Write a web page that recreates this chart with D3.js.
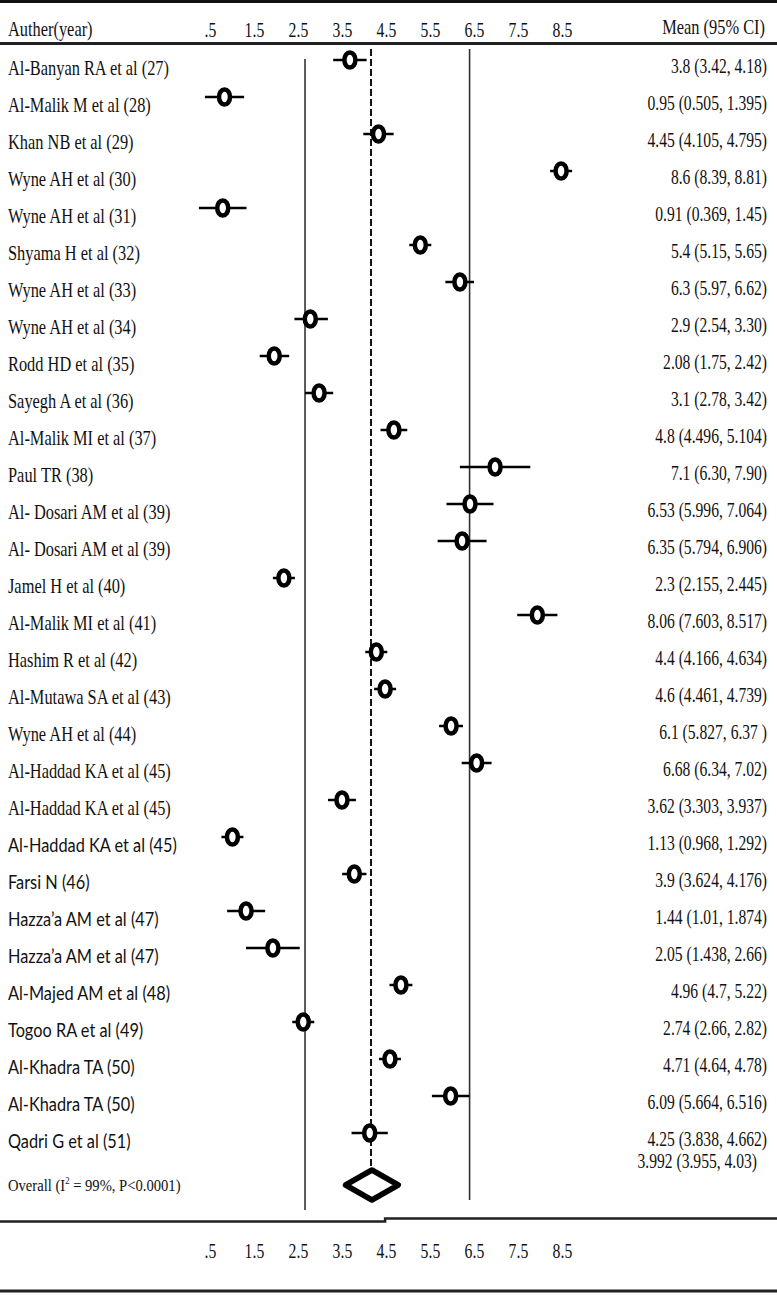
<!DOCTYPE html>
<html>
<head>
<meta charset="utf-8">
<script src="https://cdn.jsdelivr.net/npm/d3@7"></script>
<style>
  html, body { margin: 0; padding: 0; background: #fff; }
  svg { display: block; }
</style>
</head>
<body>
<svg id="chart" width="777" height="1303"></svg>
<script>
// ---------------- data ----------------
const studies = [
  "Al-Banyan RA et al (27)", "Al-Malik M et al (28)", "Khan NB et al (29)",
  "Wyne AH et al (30)", "Wyne AH et al (31)", "Shyama H et al (32)",
  "Wyne AH et al (33)", "Wyne AH et al (34)", "Rodd HD et al (35)",
  "Sayegh A et al (36)", "Al-Malik MI et al (37)", "Paul TR (38)",
  "Al- Dosari AM et al (39)", "Al- Dosari AM et al (39)", "Jamel H et al (40)",
  "Al-Malik MI et al (41)", "Hashim R et al (42)", "Al-Mutawa SA et al (43)",
  "Wyne AH et al (44)", "Al-Haddad KA et al (45)", "Al-Haddad KA et al (45)",
  "Al-Haddad KA et al (45)", "Farsi N (46)", "Hazza\u2019a AM et al (47)",
  "Hazza\u2019a AM et al (47)", "Al-Majed AM et al (48)", "Togoo RA et al (49)",
  "Al-Khadra TA (50)", "Al-Khadra TA (50)", "Qadri G et al (51)"
];
const means = [3.8, 0.95, 4.45, 8.6, 0.91, 5.4, 6.3, 2.9, 2.08, 3.1, 4.8, 7.1, 6.53, 6.35, 2.3,
  8.06, 4.4, 4.6, 6.1, 6.68, 3.62, 1.13, 3.9, 1.44, 2.05, 4.96, 2.74, 4.71, 6.09, 4.25];
const lower = [3.42, 0.505, 4.105, 8.39, 0.369, 5.15, 5.97, 2.54, 1.75, 2.78, 4.496, 6.30, 5.996, 5.794, 2.155,
  7.603, 4.166, 4.461, 5.827, 6.34, 3.303, 0.968, 3.624, 1.01, 1.438, 4.7, 2.66, 4.64, 5.664, 3.838];
const upper = [4.18, 1.395, 4.795, 8.81, 1.45, 5.65, 6.62, 3.30, 2.42, 3.42, 5.104, 7.90, 7.064, 6.906, 2.445,
  8.517, 4.634, 4.739, 6.37, 7.02, 3.937, 1.292, 4.176, 1.874, 2.66, 5.22, 2.82, 4.78, 6.516, 4.662];
const ciText = [
  "3.8 (3.42, 4.18)", "0.95 (0.505, 1.395)", "4.45 (4.105, 4.795)", "8.6 (8.39, 8.81)",
  "0.91 (0.369, 1.45)", "5.4 (5.15, 5.65)", "6.3 (5.97, 6.62)", "2.9 (2.54, 3.30)",
  "2.08 (1.75, 2.42)", "3.1 (2.78, 3.42)", "4.8 (4.496, 5.104)", "7.1 (6.30, 7.90)",
  "6.53 (5.996, 7.064)", "6.35 (5.794, 6.906)", "2.3 (2.155, 2.445)", "8.06 (7.603, 8.517)",
  "4.4 (4.166, 4.634)", "4.6 (4.461, 4.739)", "6.1 (5.827, 6.37 )", "6.68 (6.34, 7.02)",
  "3.62 (3.303, 3.937)", "1.13 (0.968, 1.292)", "3.9 (3.624, 4.176)", "1.44 (1.01, 1.874)",
  "2.05 (1.438, 2.66)", "4.96 (4.7, 5.22)", "2.74 (2.66, 2.82)", "4.71 (4.64, 4.78)",
  "6.09 (5.664, 6.516)", "4.25 (3.838, 4.662)"
];
const overallLabelParts = ["Overall (I", "2", " = 99%, P<0.0001)"];
const overallText = "3.992 (3.955, 4.03)";
// pooled diamond as it is drawn in the picture (low, centre, high on the axis)
const pooledDrawn = [3.7, 4.3, 4.9];
// vertical reference lines as drawn in the picture
const solidRefs = [2.78, 6.52];
const dashedRef = 4.28;
const tickValues = [0.5, 1.5, 2.5, 3.5, 4.5, 5.5, 6.5, 7.5, 8.5];
const tickLabels = [".5", "1.5", "2.5", "3.5", "4.5", "5.5", "6.5", "7.5", "8.5"];
const headers = ["Auther(year)", "Mean (95% CI)"];

// ---------------- drawing ----------------
const W = 777, H = 1303;
const svg = d3.select("#chart");
svg.append("rect").attr("width", W).attr("height", H).attr("fill", "#fff");

const SERIF = "'Liberation Serif','Times New Roman',serif";
const SANS = "Lato,'Noto Sans',sans-serif";
const SX = 0.78;          // horizontal condensation of the serif text
const sansFrom = 21;      // rows from here on use the sans face

const x = d3.scaleLinear().domain([0, 9]).range([182.7, 182.7 + 44 * 9]);
const y = d3.scalePoint().domain(d3.range(studies.length)).range([60, 1133]);

// frame lines
svg.append("line").attr("x1", 0).attr("x2", W).attr("y1", 1.5).attr("y2", 1.5)
  .attr("stroke", "#111").attr("stroke-width", 3);
svg.append("line").attr("x1", 0).attr("x2", W).attr("y1", 43.5).attr("y2", 43.5)
  .attr("stroke", "#222").attr("stroke-width", 3);
svg.append("path")
  .attr("d", `M0,1221.5 H${x(4.6)} V1218.5 H${W}`)
  .attr("fill", "none").attr("stroke", "#222").attr("stroke-width", 2.5);
svg.append("line").attr("x1", 0).attr("x2", W).attr("y1", 1291).attr("y2", 1291)
  .attr("stroke", "#222").attr("stroke-width", 3);

// header
const hdr = svg.append("g").attr("font-family", SERIF).attr("font-size", 21).attr("fill", "#111");
hdr.append("g").attr("transform", `translate(8,36) scale(${SX},1)`)
  .append("text").text(headers[0]);
hdr.append("g").attr("transform", `translate(765,34) scale(${SX},1)`)
  .append("text").attr("text-anchor", "end").text(headers[1]);

// axes (tick labels only)
function tickAxis(yPos) {
  const g = svg.append("g").attr("transform", `translate(0,${yPos})`)
    .call(d3.axisTop(x).tickValues(tickValues)
      .tickFormat((d, i) => tickLabels[i]).tickSize(0).tickPadding(0));
  g.select(".domain").remove();
  g.selectAll("text")
    .attr("font-family", SERIF).attr("font-size", 21).attr("fill", "#111")
    .attr("x", 7)
    .attr("transform", "scale(0.75,1)");
  return g;
}
tickAxis(37);
tickAxis(1258);

// reference lines
svg.append("line").attr("x1", x(solidRefs[0])).attr("x2", x(solidRefs[0]))
  .attr("y1", 59).attr("y2", 1210).attr("stroke", "#333").attr("stroke-width", 1.6);
svg.append("line").attr("x1", x(solidRefs[1])).attr("x2", x(solidRefs[1]))
  .attr("y1", 49).attr("y2", 1200).attr("stroke", "#333").attr("stroke-width", 1.6);
svg.append("line").attr("x1", x(dashedRef)).attr("x2", x(dashedRef))
  .attr("y1", 49).attr("y2", 1170).attr("stroke", "#111").attr("stroke-width", 2)
  .attr("stroke-dasharray", "7,3");

// study rows
const rows = svg.append("g").selectAll("g.row").data(studies).join("g").attr("class", "row");

rows.append("line")
  .attr("x1", (d, i) => Math.min(x(lower[i]), x(means[i]) - 11))
  .attr("x2", (d, i) => Math.max(x(upper[i]), x(means[i]) + 11))
  .attr("y1", (d, i) => y(i)).attr("y2", (d, i) => y(i))
  .attr("stroke", "#000").attr("stroke-width", 2.5);

rows.append("ellipse")
  .attr("cx", (d, i) => x(means[i])).attr("cy", (d, i) => y(i))
  .attr("rx", 5.5).attr("ry", 7.5)
  .attr("fill", "#fff").attr("stroke", "#000").attr("stroke-width", 4.5);

rows.append("g")
  .attr("transform", (d, i) => `translate(8,${y(i) + 15}) scale(${i >= sansFrom ? 0.86 : SX},1)`)
  .append("text")
  .attr("font-family", (d, i) => i >= sansFrom ? SANS : SERIF)
  .attr("font-size", (d, i) => i >= sansFrom ? 19 : 21)
  .attr("fill", "#111")
  .text(d => d);

rows.append("g")
  .attr("transform", (d, i) => `translate(767,${y(i) + 13}) scale(${SX},1)`)
  .append("text")
  .attr("text-anchor", "end")
  .attr("font-family", SERIF).attr("font-size", 20).attr("fill", "#111")
  .text((d, i) => ciText[i]);

// overall row
const yOverall = 1185;
const ov = svg.append("g").attr("transform", `translate(8,${yOverall + 6}) scale(0.86,1)`)
  .append("text").attr("font-family", SERIF).attr("font-size", 17).attr("fill", "#111");
ov.append("tspan").text(overallLabelParts[0]);
ov.append("tspan").attr("font-size", 10).attr("dy", -7).text(overallLabelParts[1]);
ov.append("tspan").attr("dy", 7).text(overallLabelParts[2]);

svg.append("g").attr("transform", `translate(757,1168) scale(${SX},1)`)
  .append("text").attr("text-anchor", "end")
  .attr("font-family", SERIF).attr("font-size", 20).attr("fill", "#111")
  .text(overallText);

const dh = 15;
svg.append("path")
  .attr("d", `M${x(pooledDrawn[0])},${yOverall} L${x(pooledDrawn[1])},${yOverall - dh} L${x(pooledDrawn[2])},${yOverall} L${x(pooledDrawn[1])},${yOverall + dh} Z`)
  .attr("fill", "#fff").attr("stroke", "#000").attr("stroke-width", 5.5)
  .attr("stroke-linejoin", "round");
</script>
</body>
</html>
